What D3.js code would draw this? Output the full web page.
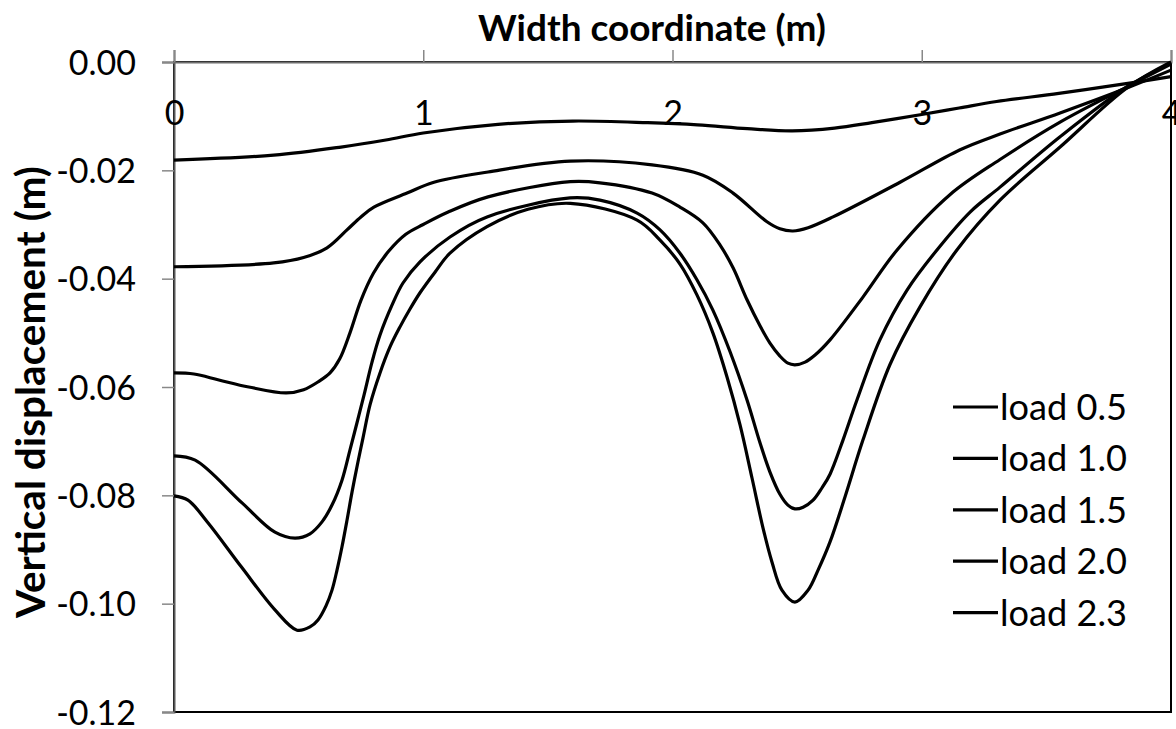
<!DOCTYPE html>
<html><head><meta charset="utf-8">
<script src="https://cdn.jsdelivr.net/npm/d3@7"></script>
<style>body{margin:0;background:#fff}svg{display:block}text{font-family:Lato,"Open Sans",sans-serif;fill:#000}</style>
</head><body><svg id="c" width="1176" height="729"></svg>
<script>
const xTicks = [0, 1, 2, 3, 4];
const yTicks = [0, -0.02, -0.04, -0.06, -0.08, -0.10, -0.12];
const seriesNames = ["load 0.5", "load 1.0", "load 1.5", "load 2.0", "load 2.3"];
const load05 = [[0,-0.0181],[0.4,-0.0172],[0.67,-0.0157],[0.85,-0.0144],[1.0,-0.0131],[1.3,-0.0115],[1.6,-0.0109],[1.9,-0.0112],[2.1,-0.0116],[2.3,-0.0123],[2.48,-0.0127],[2.65,-0.0122],[2.8,-0.0112],[3.0,-0.0097],[3.15,-0.0085],[3.3,-0.0073],[3.55,-0.0058],[3.82,-0.0040],[4.0,-0.0027]];
const load10 = [[0,-0.0378],[0.4,-0.0371],[0.52,-0.0361],[0.614,-0.0343],[0.694,-0.0310],[0.75,-0.0286],[0.802,-0.0268],[0.935,-0.0242],[1.043,-0.0222],[1.26,-0.0203],[1.59,-0.0183],[1.918,-0.0190],[2.122,-0.0209],[2.243,-0.0242],[2.379,-0.0295],[2.431,-0.0308],[2.483,-0.0312],[2.544,-0.0306],[2.644,-0.0286],[2.913,-0.0222],[3.154,-0.0162],[3.314,-0.0133],[3.555,-0.0094],[3.823,-0.0048],[4.0,-0.0015]];
const load15 = [[0,-0.0574],[0.08,-0.0576],[0.18,-0.0587],[0.3,-0.0600],[0.45,-0.0611],[0.52,-0.0605],[0.58,-0.0590],[0.626,-0.0574],[0.665,-0.0548],[0.706,-0.0500],[0.75,-0.0440],[0.80,-0.0390],[0.86,-0.0350],[0.93,-0.0318],[1.0,-0.0300],[1.1,-0.0277],[1.26,-0.0249],[1.59,-0.0221],[1.709,-0.0223],[1.918,-0.0242],[2.030,-0.0268],[2.122,-0.0297],[2.191,-0.0338],[2.243,-0.0380],[2.299,-0.0439],[2.351,-0.0487],[2.391,-0.0519],[2.431,-0.0543],[2.463,-0.0556],[2.491,-0.0559],[2.532,-0.0554],[2.572,-0.0541],[2.632,-0.0513],[2.764,-0.0434],[2.901,-0.0347],[3.113,-0.0245],[3.314,-0.0180],[3.555,-0.0111],[3.823,-0.0046],[4.0,-0.0004]];
const load20 = [[0,-0.0727],[0.085,-0.0735],[0.273,-0.0814],[0.405,-0.0868],[0.4855,-0.0879],[0.5456,-0.0871],[0.5938,-0.0849],[0.6339,-0.0818],[0.674,-0.0772],[0.7061,-0.0716],[0.7342,-0.0666],[0.7623,-0.0615],[0.7944,-0.0554],[0.8265,-0.0504],[0.8746,-0.0449],[0.9187,-0.0408],[0.987,-0.0369],[1.1073,-0.0323],[1.256,-0.0286],[1.5888,-0.0251],[1.709,-0.0255],[1.858,-0.0279],[1.950,-0.0310],[2.030,-0.0353],[2.098,-0.0402],[2.162,-0.0458],[2.231,-0.0535],[2.299,-0.0624],[2.351,-0.0703],[2.391,-0.0757],[2.431,-0.0798],[2.463,-0.0818],[2.491,-0.0825],[2.524,-0.0822],[2.564,-0.0809],[2.600,-0.0786],[2.632,-0.0761],[2.684,-0.0698],[2.740,-0.0624],[2.832,-0.0513],[2.941,-0.0421],[3.061,-0.0347],[3.194,-0.0277],[3.314,-0.0231],[3.555,-0.0138],[3.823,-0.0046],[4.0,-0.0002]];
const load23 = [[0,-0.0801],[0.056,-0.0809],[0.137,-0.0851],[0.27,-0.0932],[0.406,-0.1012],[0.4935,-0.1049],[0.5456,-0.1043],[0.5777,-0.1030],[0.6098,-0.1004],[0.6339,-0.0975],[0.654,-0.0938],[0.674,-0.0895],[0.6941,-0.0846],[0.7142,-0.0794],[0.7382,-0.0738],[0.7583,-0.0694],[0.7864,-0.0633],[0.8265,-0.0574],[0.8666,-0.0526],[0.9067,-0.0489],[0.9468,-0.0456],[0.987,-0.0426],[1.0471,-0.0388],[1.1073,-0.0353],[1.256,-0.0304],[1.42,-0.0272],[1.59,-0.0261],[1.858,-0.0292],[1.950,-0.0329],[2.030,-0.0373],[2.098,-0.0430],[2.162,-0.0500],[2.219,-0.0582],[2.271,-0.0670],[2.319,-0.0768],[2.363,-0.0860],[2.399,-0.0923],[2.439,-0.0975],[2.491,-0.0997],[2.544,-0.0975],[2.584,-0.0938],[2.632,-0.0886],[2.692,-0.0803],[2.764,-0.0698],[2.873,-0.0558],[2.993,-0.0452],[3.141,-0.0347],[3.314,-0.0255],[3.555,-0.0157],[3.823,-0.0048],[4.0,0.0]];
const seriesData = [load05, load10, load15, load20, load23];

const svg = d3.select("#c");
const L = 174, R = 1171, T = 62, B = 712;
const x = d3.scaleLinear().domain([0, 4]).range([L, R]);
const y = d3.scaleLinear().domain([0, -0.12]).range([T, B]);

function fit(sel, w, start) {
  let fs = start; sel.style("font-size", fs + "px");
  for (let i = 0; i < 6; i++) {
    const cw = sel.node().getComputedTextLength();
    fs = fs * w / cw; sel.style("font-size", fs.toFixed(2) + "px");
  }
}

// plot border
svg.append("rect").attr("x", L).attr("y", T).attr("width", R - L).attr("height", B - T)
  .attr("fill", "none").attr("stroke", "#000").attr("stroke-width", 2);

// y axis
const yAxis = svg.append("g").attr("transform", `translate(${L},0)`)
  .call(d3.axisLeft(y).tickValues(yTicks).tickFormat(d3.format(".2f")).tickSize(12).tickPadding(26));
yAxis.select(".domain").attr("stroke", "#595959").attr("stroke-width", 2);
yAxis.selectAll(".tick line").attr("stroke", "#888").attr("stroke-width", 1.5);
yAxis.selectAll(".tick text").attr("font-family", null).style("font-size", "34px").attr("dy", "0.36em");
yAxis.selectAll(".tick text").text(d => d === 0 ? "0.00" : d3.format(".2f")(d).replace("−", "-"));

// x axis at y = 0 (top), ticks upward, labels below
const xAxis = svg.append("g").attr("transform", `translate(0,${y(0)})`)
  .call(d3.axisTop(x).tickValues(xTicks).tickFormat(d3.format("d")).tickSize(12));
xAxis.select(".domain").attr("stroke", "#6e6e6e").attr("stroke-width", 2);
xAxis.selectAll(".tick line").attr("stroke", "#888").attr("stroke-width", 1.5);
xAxis.selectAll(".tick text").attr("font-family", null).style("font-size", "34px")
  .attr("y", 51).attr("dy", "0.36em");

// lines
const line = d3.line().x(d => x(d[0])).y(d => y(d[1])).curve(d3.curveCatmullRom.alpha(0.5));
svg.append("g").selectAll("path").data(seriesData).join("path")
  .attr("d", line).attr("fill", "none").attr("stroke", "#000").attr("stroke-width", 3.2)
  .attr("stroke-linejoin", "round");

// titles
const xt = svg.append("text").attr("x", 652).attr("y", 28).attr("dy", "0.36em")
  .attr("text-anchor", "middle").style("font-weight", "bold").text("Width coordinate (m)");
fit(xt, 348, 30);
const yt = svg.append("text").attr("transform", "translate(30,392) rotate(-90)").attr("dy", "0.36em")
  .attr("text-anchor", "middle").style("font-weight", "bold").text("Vertical displacement (m)");
fit(yt, 452, 30);

// legend
const legend = svg.append("g");
seriesNames.forEach((name, i) => {
  const cy = 407 + i * 51.4;
  legend.append("line").attr("x1", 953).attr("x2", 998).attr("y1", cy).attr("y2", cy)
    .attr("stroke", "#000").attr("stroke-width", 3.2);
  const t = legend.append("text").attr("x", 1000).attr("y", cy).attr("dy", "0.36em").text(name);
  fit(t, 127, 30);
});
</script></body></html>
